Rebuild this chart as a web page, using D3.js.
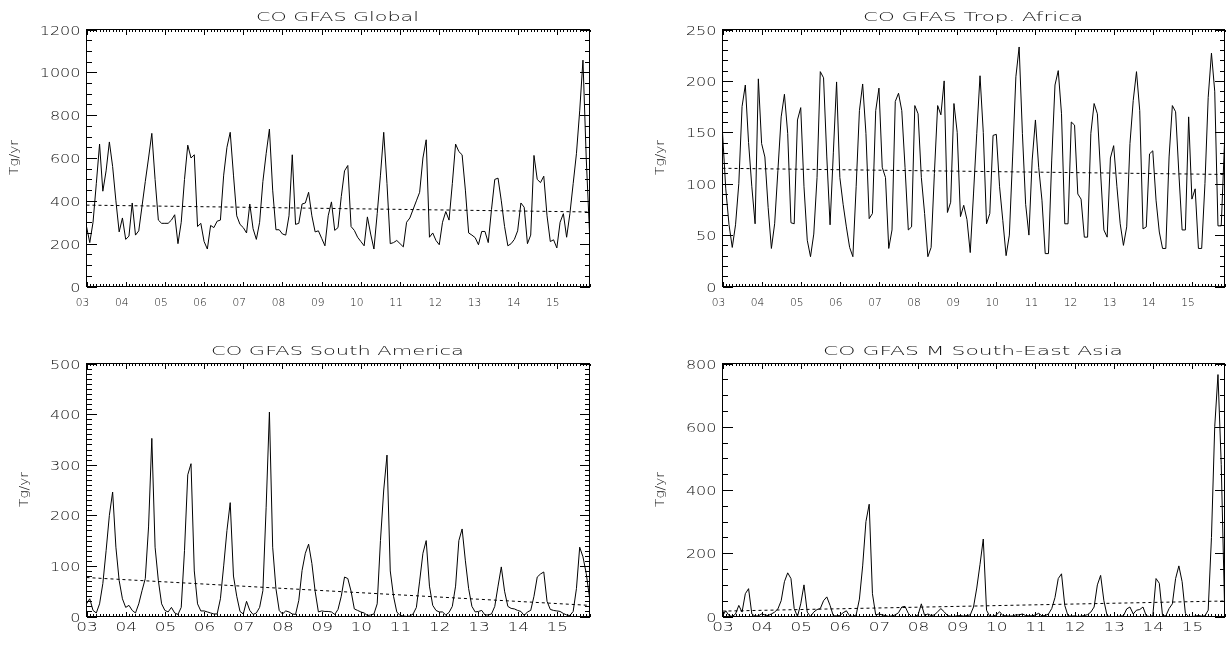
<!DOCTYPE html>
<html>
<head>
<meta charset="utf-8">
<script src="https://cdn.jsdelivr.net/npm/d3@7"></script>
<style>
  body { margin: 0; background: #fff; }
  svg { display: block; filter: grayscale(1); }
  text { font-family: "DejaVu Sans", sans-serif; font-weight: 200; fill: #111; }
</style>
</head>
<body>
<script>
// ---- data (monthly, Jan 2003 .. Nov 2015) ----
var yearLabels = ["03", "04", "05", "06", "07", "08", "09", "10", "11", "12", "13", "14", "15"];

var globalCO = [
    280, 205, 300, 480, 665, 445, 540, 675, 560, 400, 255, 320,
    220, 235, 390, 240, 260, 375, 490, 600, 715, 500, 310, 295,
    295, 295, 310, 335, 200, 300, 500, 660, 600, 615, 280, 295,
    210, 175, 285, 275, 305, 310, 520, 650, 720, 520, 330, 290,
    275, 250, 385, 270, 220, 300, 490, 620, 735, 450, 265, 265,
    245, 240, 330, 615, 290, 295, 385, 390, 440, 330, 255, 260,
    225, 190, 330, 395, 262, 275, 420, 540, 565, 280, 262, 230,
    210, 190, 325, 245, 175, 340, 520, 720, 480, 200, 205, 215,
    200, 185, 300, 320, 360, 400, 440, 600, 685, 230, 250, 215,
    195, 300, 350, 310, 480, 665, 630, 615, 450, 250, 240, 228,
    195, 257, 257, 205, 360, 500, 506, 400, 280, 190, 200, 220,
    260, 390, 370, 200, 240, 612, 500, 485, 515, 330, 210, 218,
    180, 300, 340, 230, 340, 480, 620, 820, 1057, 600, 254
];

var tropAfricaCO = [
    150, 95, 60, 38, 60, 100, 175, 196, 140, 97, 61, 202,
    139, 126, 77, 37, 61, 113, 165, 187, 149, 62, 61, 162,
    174, 97, 45, 29, 51, 106, 209, 203, 126, 60, 130, 199,
    106, 80, 58, 38, 29, 97, 171, 197, 149, 66, 71, 171,
    193, 116, 106, 37, 55, 180, 188, 171, 116, 55, 58, 176,
    168, 106, 71, 29, 38, 110, 176, 167, 200, 72, 82, 178,
    150, 68, 79, 65, 33, 90, 149, 205, 150, 61, 71, 147,
    148, 97, 64, 30, 50, 126, 204, 233, 149, 80, 50, 123,
    162, 116, 84, 32, 32, 123, 196, 210, 168, 61, 61, 160,
    157, 90, 85, 48, 48, 149, 178, 168, 110, 55, 48, 125,
    137, 97, 61, 40, 58, 139, 181, 209, 171, 56, 58, 129,
    132, 84, 53, 37, 37, 126, 176, 170, 110, 55, 55, 165,
    85, 95, 37, 37, 100, 184, 227, 190, 59, 59, 140
];

var southAmericaCO = [
    25, 35, 12, 7, 25, 65, 130, 200, 246, 137, 71, 35,
    18, 22, 12, 7, 25, 51, 75, 177, 352, 137, 71, 25,
    12, 9, 18, 7, 4, 18, 130, 280, 302, 90, 25, 11,
    11, 9, 7, 5, 5, 35, 100, 170, 225, 80, 40, 10,
    5, 30, 12, 4, 7, 18, 51, 216, 404, 137, 55, 12,
    5, 11, 9, 5, 4, 32, 91, 125, 143, 105, 50, 9,
    11, 10, 10, 9, 4, 14, 40, 78, 75, 50, 15, 12,
    9, 7, 2, 3, 5, 25, 150, 250, 319, 90, 40, 9,
    2, 1, 0, 1, 5, 18, 70, 125, 150, 60, 22, 12,
    9, 9, 3, 8, 20, 60, 150, 173, 110, 55, 20, 9,
    10, 12, 3, 3, 5, 20, 60, 98, 50, 20, 16, 15,
    12, 10, 2, 9, 12, 40, 78, 84, 88, 30, 14, 12,
    11, 10, 6, 3, 2, 10, 55, 137, 118, 85, 38
];

var seAsiaCO = [
    2, 18, 3, 0, 8, 35, 14, 72, 88, 8, 1, 2,
    8, 5, 3, 8, 14, 24, 50, 110, 138, 120, 25, 0,
    40, 100, 14, 0, 14, 22, 25, 50, 62, 35, 2, 2,
    3, 12, 18, 2, 0, 5, 55, 160, 300, 355, 72, 5,
    8, 5, 3, 0, 2, 5, 12, 30, 32, 10, 0, 0,
    5, 40, 3, 8, 3, 5, 15, 25, 15, 3, 1, 0,
    2, 3, 1, 3, 5, 30, 90, 165, 245, 20, 0, 1,
    5, 15, 3, 2, 1, 2, 5, 5, 8, 3, 2, 2,
    5, 10, 2, 3, 8, 25, 60, 120, 135, 35, 2, 1,
    2, 0, 1, 3, 6, 14, 30, 100, 130, 50, 2, 0,
    0, 0, 1, 2, 24, 30, 8, 20, 22, 30, 2, 0,
    2, 120, 105, 2, 2, 25, 40, 120, 160, 110, 10, 0,
    0, 1, 3, 1, 2, 20, 250, 600, 765, 480, 40
];

// linear trend, value at first and last month
var globalTrend = [380, 348];
var tropAfricaTrend = [115, 109];
var southAmericaTrend = [77, 22];
var seAsiaTrend = [17, 49];

// y tick labels
var globalTicks = [0, 200, 400, 600, 800, 1000, 1200];
var tropAfricaTicks = [0, 50, 100, 150, 200, 250];
var southAmericaTicks = [0, 100, 200, 300, 400, 500];
var seAsiaTicks = [0, 200, 400, 600, 800];

var titles = ["CO GFAS Global", "CO GFAS Trop. Africa", "CO GFAS South America", "CO GFAS M South-East Asia"];

// ---- layout of the four panels ----
var panels = [
    { title: titles[0], values: globalCO, trend: globalTrend, ticks: globalTicks, minorStep: 50,
      left: 86, right: 589, top: 29, bottom: 286, titleW: 163, smallX: true },
    { title: titles[1], values: tropAfricaCO, trend: tropAfricaTrend, ticks: tropAfricaTicks, minorStep: 10,
      left: 722, right: 1224, top: 29, bottom: 286, titleW: 220, smallX: true },
    { title: titles[2], values: southAmericaCO, trend: southAmericaTrend, ticks: southAmericaTicks, minorStep: 10,
      left: 86, right: 589, top: 363, bottom: 616, titleW: 253, smallX: false },
    { title: titles[3], values: seAsiaCO, trend: seAsiaTrend, ticks: seAsiaTicks, minorStep: 50,
      left: 722, right: 1224, top: 363, bottom: 616, titleW: 300, smallX: false }
];

var svg = d3.select("body").append("svg")
    .attr("width", 1226)
    .attr("height", 648);

var nMonths = globalCO.length;
var yearIdx = yearLabels.map(function (d, i) { return i * 12; });
var monthIdx = d3.range(0, nMonths);

panels.forEach(function (p) {
    var g = svg.append("g").attr("transform", "translate(0.5,0.5)");
    var w = p.right - p.left, h = p.bottom - p.top;
    var yMax = p.ticks[p.ticks.length - 1];

    var x = d3.scaleLinear().domain([0, nMonths - 1]).range([p.left, p.right]);
    var y = d3.scaleLinear().domain([0, yMax]).range([p.bottom, p.top]);
    var minorY = d3.range(0, yMax + 1, p.minorStep);

    // axes: minor ticks first, then major ticks with labels
    function addAxis(axis, tx, ty) {
        var a = g.append("g")
            .attr("transform", "translate(" + tx + "," + ty + ")")
            .call(axis);
        a.select(".domain").remove();
        a.selectAll("line").attr("stroke", "#000").attr("shape-rendering", "crispEdges");
        return a;
    }

    var xLen = 5, yLen = 10;
    addAxis(d3.axisBottom(x).tickValues(monthIdx).tickSize(-xLen / 2).tickFormat(""), 0, p.bottom);
    addAxis(d3.axisTop(x).tickValues(monthIdx).tickSize(-xLen / 2).tickFormat(""), 0, p.top);
    addAxis(d3.axisTop(x).tickValues(yearIdx).tickSize(-xLen).tickFormat(""), 0, p.top);
    var xAx = addAxis(d3.axisBottom(x).tickValues(yearIdx).tickSize(-xLen)
        .tickFormat(function (d, i) { return yearLabels[i]; }), 0, p.bottom);

    addAxis(d3.axisLeft(y).tickValues(minorY).tickSize(-yLen / 2).tickFormat(""), p.left, 0);
    addAxis(d3.axisRight(y).tickValues(minorY).tickSize(-yLen / 2).tickFormat(""), p.right, 0);
    addAxis(d3.axisRight(y).tickValues(p.ticks).tickSize(-yLen).tickFormat(""), p.right, 0);
    var yAx = addAxis(d3.axisLeft(y).tickValues(p.ticks).tickSize(-yLen)
        .tickFormat(d3.format("d")), p.left, 0);

    // x tick labels
    xAx.selectAll("text")
        .attr("fill", "#111")
        .attr("font-family", "DejaVu Sans, sans-serif")
        .attr("font-weight", 200)
        .attr("text-anchor", "middle")
        .attr("dy", null)
        .attr("font-size", p.smallX ? 10 : 12.5)
        .attr("x", p.smallX ? -4.5 : 0)
        .attr("y", p.smallX ? 19 : 14.5)
        .attr("textLength", p.smallX ? 13.5 : 21.5)
        .attr("lengthAdjust", "spacingAndGlyphs");

    // y tick labels
    yAx.selectAll("text")
        .attr("fill", "#111")
        .attr("font-family", "DejaVu Sans, sans-serif")
        .attr("font-weight", 200)
        .attr("font-size", 12.5)
        .attr("text-anchor", "end")
        .attr("x", -6)
        .attr("dy", null)
        .attr("y", 4.5)
        .attr("textLength", function (d) { return String(d).length * 10.2; })
        .attr("lengthAdjust", "spacingAndGlyphs");

    // frame
    g.append("rect")
        .attr("x", p.left).attr("y", p.top)
        .attr("width", w).attr("height", h)
        .attr("fill", "none").attr("stroke", "#000")
        .attr("shape-rendering", "crispEdges");

    // trend line (dotted)
    g.append("line")
        .attr("x1", x(0)).attr("y1", y(p.trend[0]))
        .attr("x2", x(nMonths - 1)).attr("y2", y(p.trend[1]))
        .attr("stroke", "#000").attr("stroke-width", 1)
        .attr("stroke-dasharray", "3,3");

    // monthly series
    var line = d3.line()
        .x(function (d, i) { return x(i); })
        .y(function (d) { return y(d); });

    g.append("path")
        .datum(p.values)
        .attr("d", line)
        .attr("fill", "none")
        .attr("stroke", "#000")
        .attr("stroke-width", 1);

    // title
    svg.append("text")
        .attr("x", (p.left + p.right) / 2)
        .attr("y", p.top - 8)
        .attr("text-anchor", "middle")
        .attr("font-size", 13)
        .attr("textLength", p.titleW)
        .attr("lengthAdjust", "spacingAndGlyphs")
        .text(p.title);

    // y axis title
    var maxChars = String(yMax).length;
    var bx = p.left - 6 - maxChars * 10.2 - 21;
    svg.append("text")
        .attr("transform", "translate(" + bx + "," + ((p.top + p.bottom) / 2) + ") rotate(-90)")
        .attr("text-anchor", "middle")
        .attr("font-size", 12.5)
        .attr("textLength", 35)
        .attr("lengthAdjust", "spacingAndGlyphs")
        .text("Tg/yr");
});
</script>
</body>
</html>
